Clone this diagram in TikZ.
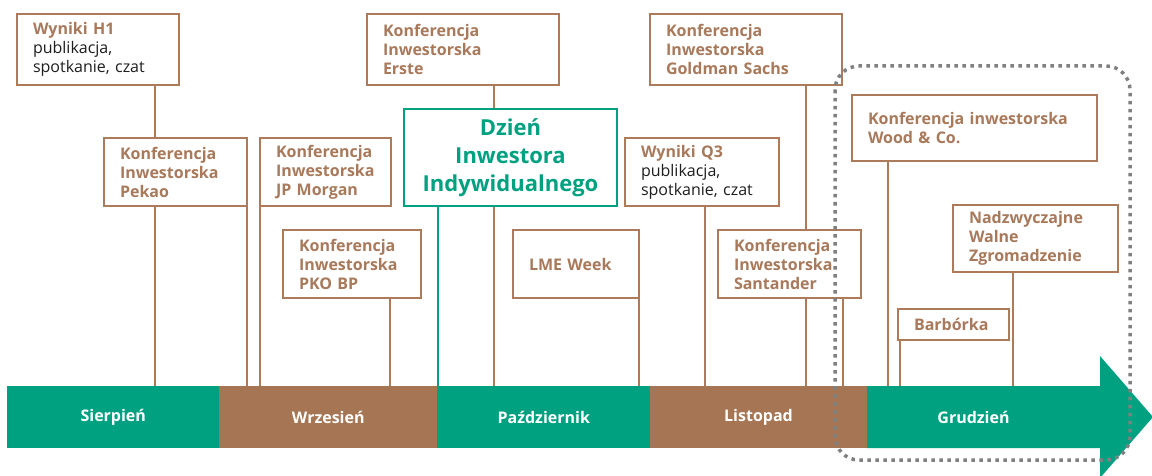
\documentclass[tikz,border=0pt]{standalone}
\usepackage{fontspec}
\setmainfont{Open Sans}
\usetikzlibrary{backgrounds}
\definecolor{mgreen}{HTML}{00A181}
\definecolor{mbrown}{HTML}{A67553}
\definecolor{tbrown}{HTML}{A8795A}
\definecolor{bxbrown}{HTML}{AD7B59}
\definecolor{dgray}{HTML}{808080}
\definecolor{ink}{HTML}{1E1E1E}
\hyphenpenalty=10000 \exhyphenpenalty=10000
\begin{document}
\begin{tikzpicture}[x=1pt,y=-1pt,
 box/.style={draw=bxbrown, fill=white, line width=1.5pt, inner xsep=16pt, inner ysep=0pt, outer sep=0pt, anchor=north west, align=left, font=\bfseries\fontsize{16}{19}\selectfont, text=tbrown},
 month/.style={minimum height=62pt, inner sep=0pt, outer sep=0pt, anchor=north west, text=white, font=\bfseries\fontsize{16}{19}\selectfont},
 conn/.style={draw=bxbrown, line width=1.4pt},
 gconn/.style={draw=mgreen, line width=1.4pt},
 dotbox/.style={draw=dgray, line width=3.5pt, dash pattern=on 3.5pt off 4.5pt, rounded corners=24pt}]
\useasboundingbox (0,0) rectangle (1152,476);

% timeline bar
\node[month, fill=mgreen, minimum width=212.5pt] (sierpien) at (7,386) {Sierpień};
\node[month, fill=mbrown, minimum width=218.5pt] (wrzesien) at (219,386) {Wrzesień};
\node[month, fill=mgreen, minimum width=213.5pt] (pazdziernik) at (437,386) {Październik};
\node[month, fill=mbrown, minimum width=217pt] (listopad) at (650,386) {Listopad};
\fill[mgreen] (867,386) -- (1100,386) -- (1100,356) -- (1153,417) -- (1100,478) -- (1100,448) -- (867,448) -- cycle;
\node[month, minimum width=213pt] (grudzien) at (867,386) {Grudzień};

% boxes
\node[box, text width=130pt, minimum height=71pt] (h1) at (17,14) {Wyniki H1\\{\color{ink}\mdseries publikacja,}\\{\color{ink}\mdseries spotkanie, czat}};
\node[box, text width=160pt, minimum height=71pt] (erste) at (367,14) {Konferencja\\Inwestorska\\Erste};
\node[box, text width=160pt, minimum height=71pt] (goldman) at (650,14) {Konferencja\\Inwestorska\\Goldman Sachs};
\node[box, text width=111pt, minimum height=68pt] (pekao) at (104,138) {Konferencja\\Inwestorska\\Pekao};
\node[box, text width=99pt, minimum height=68pt] (jp) at (260,138) {Konferencja\\Inwestorska\\JP Morgan};
\node[box, draw=mgreen, text=mgreen, align=center, text width=181pt, minimum height=97pt, font=\bfseries\fontsize{22}{28}\selectfont] (dzien) at (404,109) {Dzień\\Inwestora\\Indywidualnego};
\node[box, text width=122pt, minimum height=68pt] (q3) at (625,138) {Wyniki Q3\\{\color{ink}\mdseries publikacja,}\\{\color{ink}\mdseries spotkanie, czat}};
\node[box, text width=106pt, minimum height=68pt] (pko) at (283,230) {Konferencja\\Inwestorska\\PKO BP};
\node[box, text width=94pt, minimum height=68pt] (lme) at (513,230) {LME Week};
\node[box, text width=111pt, minimum height=68pt] (santander) at (718,230) {Konferencja\\Inwestorska\\Santander};
\node[box, text width=213pt, minimum height=66pt] (wood) at (852,95) {Konferencja inwestorska\\Wood \& Co.};
\node[box, text width=133pt, minimum height=67pt] (nadz) at (953,205) {Nadzwyczajne\\Walne\\Zgromadzenie};
\node[box, text width=79pt, minimum height=31pt] (barb) at (898,309) {Barbórka};

% connectors
\begin{scope}[on background layer]
\draw[conn] (h1.south -| 155,0) -- (155,0 |- sierpien.north);
\draw[conn] (pekao.south east) -- (pekao.south east |- wrzesien.north);
\draw[conn] (jp.south west) -- (jp.south west |- wrzesien.north);
\draw[conn] (pko.south -| 390,0) -- (390,0 |- wrzesien.north);
\draw[gconn] (dzien.south -| 438,0) -- (438,0 |- pazdziernik.north);
\draw[conn] (erste.south -| 494,0) -- (494,0 |- pazdziernik.north);
\draw[conn] (lme.south east) -- (lme.south east |- pazdziernik.north);
\draw[conn] (q3.south -| 705,0) -- (705,0 |- listopad.north);
\draw[conn] (goldman.south -| 806,0) -- (806,0 |- listopad.north);
\draw[conn] (santander.south -| 843,0) -- (843,0 |- listopad.north);
\draw[conn] (wood.south -| 888,0) -- (888,0 |- grudzien.north);
\draw[conn] (barb.south -| 900,0) -- (900,0 |- grudzien.north);
\draw[conn] (nadz.south -| 1013,0) -- (1013,0 |- grudzien.north);
\end{scope}

% dotted frame
\draw[dotbox] (835,66) rectangle (1130,460);
\end{tikzpicture}
\end{document}
